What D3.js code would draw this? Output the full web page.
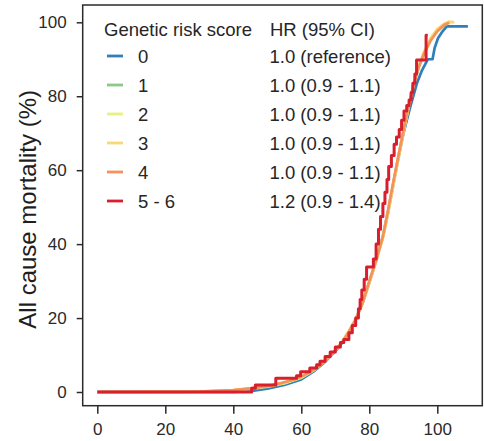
<!DOCTYPE html>
<html>
<head>
<meta charset="utf-8">
<script src="https://cdn.jsdelivr.net/npm/d3@7/dist/d3.min.js"></script>
<style>
  html, body { margin: 0; padding: 0; background: #fff; }
  svg { display: block; font-family: "Liberation Sans", Arial, sans-serif; }
</style>
</head>
<body>
<svg id="chart" width="484" height="441"></svg>
<script>
// ---------------- DATA ----------------
const groups = ["0", "1", "2", "3", "4", "5 - 6"];
const hrLabels = ["1.0 (reference)", "1.0 (0.9 - 1.1)", "1.0 (0.9 - 1.1)", "1.0 (0.9 - 1.1)", "1.0 (0.9 - 1.1)", "1.2 (0.9 - 1.4)"];
const xTicks = [0, 20, 40, 60, 80, 100];
const yTicks = [0, 20, 40, 60, 80, 100];

// cumulative mortality (%) by age, [age, percent]
const grs0 = [[0,0],[40,0],[45,0.2],[50,0.9],[55,1.9],[60,3.4],[64,5.8],[67,8.2],[70,11],[72,13.3],[74,16.2],[76,19.6],[78,24],[80,29.5],[82,35.5],[84,42],[85.5,48.5],[87,55.8],[88.5,63],[90,69.8],[92,77],[94,83.5],[95.5,87],[97.2,90],[98.6,90],[99.2,93],[100.2,95.7],[101.5,97.5],[102.8,98.9],[109,98.9]];
const grs1 = [[0,0],[30,0.1],[40,0.4],[45,0.8],[50,1.4],[55,2.3],[60,3.8],[64,6],[67,8.4],[70,11.2],[72,13.5],[74,16.4],[76,19.8],[78,24.3],[80,29.8],[82,35.8],[84,42.3],[85.5,49],[87,56.3],[88.5,63.5],[90,70.5],[91.5,77],[93,83],[94.5,87.8],[96,91.5],[98,95.2],[100,97.6],[102,99.2],[103,99.6]];
const grs2 = [[0,0],[30,0.1],[40,0.5],[45,0.9],[50,1.5],[55,2.4],[60,3.9],[64,6.1],[67,8.5],[70,11.3],[72,13.6],[74,16.5],[76,19.8],[78,24.2],[80,29.6],[82,35.6],[84,42],[85.5,48.6],[87,56],[88.5,63.2],[90,70.3],[91.5,77],[93,83.2],[94.5,88],[96,91.8],[98,95.5],[100,98],[102,99.5],[104,100]];
const grs3 = [[0,0],[30,0.1],[40,0.5],[45,1.0],[50,1.6],[55,2.5],[60,4.0],[64,6.2],[67,8.5],[70,11.2],[72,13.5],[74,16.3],[76,19.6],[78,24],[80,29.5],[82,35.3],[84,41.6],[85.5,48.2],[87,55.6],[88.5,62.8],[90,70],[91.5,76.6],[93,82.8],[94.5,87.8],[96,91.8],[98,95.6],[100,98.2],[102,99.6],[103.5,100.2],[105,100]];
const grs4 = [[0,0],[30,0.1],[40,0.5],[45,1.0],[50,1.6],[54,2.4],[58,3.4],[61,4.6],[64,6.2],[67,8.4],[70,11.2],[72,13.4],[74,16.3],[76,19.6],[78,24],[80,30],[82,35.6],[84,42],[85.5,49],[87,56.5],[88.5,63.5],[90,70.5],[91.5,77],[93,83],[94.5,87.8],[96,91.3],[98,95],[100,97.6],[102,99.3],[103.5,99.9]];
// step function for group 5-6
const grs56 = [[0,0],[45.4,1.0],[46.5,1.9],[52.5,3.7],[58.6,4.4],[59.8,5.5],[62.5,6.5],[64.5,7.4],[65.5,8.3],[67,9.6],[68.5,10.8],[70,12.2],[71.5,13.4],[72.5,14.2],[74,16],[75,18],[76,20],[76.8,22.5],[77.3,25],[77.8,27.6],[78.5,30.5],[79.2,33.8],[81.2,36],[82,40],[82.7,44],[83.3,47.5],[84,51],[84.6,54],[85.2,57.5],[85.7,61],[86.5,64],[87.3,67],[88,69],[88.8,71],[89.5,73.5],[90.2,76],[91,77.5],[91.7,79],[92.3,81],[92.8,83.5],[93.4,86],[93.9,89.8],[96.7,96.5],[97.2,96.5]];

const seriesData = [grs0, grs1, grs2, grs3, grs4, grs56];
const colors = ["#2f7fba", "#8cc88a", "#e8f07e", "#f8d872", "#f5925a", "#d71f2e"];

// ---------------- LAYOUT ----------------
const svg = d3.select("#chart");
const box = { left: 82.7, right: 482.3, top: 5, bottom: 405.7 };
const x = d3.scaleLinear().domain([0, 100]).range([97.3, 437.3]);
const y = d3.scaleLinear().domain([0, 100]).range([392, 22.3]);
const ink = "#2a2a2a";

// curves
const lineSmooth = d3.line().x(d => x(d[0])).y(d => y(d[1])).curve(d3.curveLinear);
const lineStep = d3.line().x(d => x(d[0])).y(d => y(d[1])).curve(d3.curveStepAfter);

seriesData.forEach((s, i) => {
  svg.append("path")
    .attr("d", i === 5 ? lineStep(s) : lineSmooth(s))
    .attr("fill", "none")
    .attr("stroke", colors[i])
    .attr("stroke-width", i === 5 ? 3 : 2.7)
    .attr("stroke-linejoin", "round");
});

// box
svg.append("rect")
  .attr("x", box.left).attr("y", box.top)
  .attr("width", box.right - box.left).attr("height", box.bottom - box.top)
  .attr("fill", "none").attr("stroke", ink).attr("stroke-width", 1.5);

// axes
const xAxis = svg.append("g")
  .attr("transform", `translate(0,${box.bottom})`)
  .call(d3.axisBottom(x).tickValues(xTicks).tickSize(8).tickSizeOuter(0).tickFormat(d3.format("d")));
xAxis.select(".domain").remove();
xAxis.selectAll(".tick line").attr("stroke", ink).attr("stroke-width", 1.5);
xAxis.selectAll(".tick text")
  .attr("y", 29.3).attr("dy", 0)
  .attr("fill", "#2a2a2a").style("font-size", "17px")
  .style("font-family", "'Liberation Sans', Arial, sans-serif");

const yAxis = svg.append("g")
  .attr("transform", `translate(${box.left},0)`)
  .call(d3.axisLeft(y).tickValues(yTicks).tickSize(6).tickPadding(10).tickSizeOuter(0).tickFormat(d3.format("d")));
yAxis.select(".domain").remove();
yAxis.selectAll(".tick line").attr("stroke", ink).attr("stroke-width", 1.5);
yAxis.selectAll(".tick text")
  .attr("fill", "#2a2a2a").style("font-size", "17px")
  .style("font-family", "'Liberation Sans', Arial, sans-serif");

// y title
svg.append("text")
  .attr("transform", `translate(36,${(box.top + box.bottom) / 2 + 4}) rotate(-90)`)
  .attr("text-anchor", "middle")
  .attr("fill", "#1e1e1e")
  .style("font-size", "24px")
  .text("All cause mortality (%)");

// legend
const leg = svg.append("g").style("font-size", "18.5px").attr("fill", "#262626");
leg.append("text").attr("x", 104).attr("y", 36).text("Genetic risk score");
leg.append("text").attr("x", 270).attr("y", 36).text("HR (95% CI)");
groups.forEach((g, i) => {
  const cy = 56 + i * 29;
  leg.append("line")
    .attr("x1", 107).attr("x2", 123).attr("y1", cy).attr("y2", cy)
    .attr("stroke", colors[i]).attr("stroke-width", 2.8);
  leg.append("text").attr("x", 138).attr("y", cy + 6.5).text(g);
  leg.append("text").attr("x", 269.5).attr("y", cy + 6.5).text(hrLabels[i]);
});
</script>
</body>
</html>
